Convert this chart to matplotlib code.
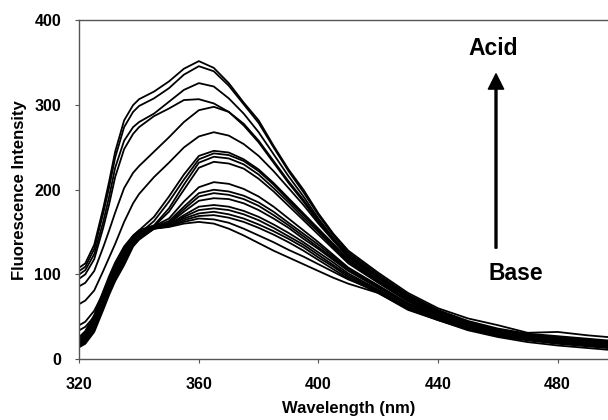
import numpy as np
import matplotlib
matplotlib.use("Agg")
import matplotlib.pyplot as plt

plt.rcParams['font.family'] = ['Liberation Sans', 'DejaVu Sans']
plt.rcParams['font.weight'] = 'bold'

wavelength = [320, 322, 325, 328, 330, 332, 335, 338, 340, 345, 350, 355, 360, 365, 370,
              375, 380, 385, 390, 395, 400, 405, 410, 420, 430, 440, 450, 460, 470, 480,
              490, 500]

# spectra from most acidic (top) to most basic (bottom)
s01 = [108, 113, 135, 178, 210, 245, 282, 300, 307, 316, 328, 343, 352, 344, 326,
       303, 282, 252, 224, 200, 172, 148, 128, 102, 78, 60, 48, 40, 31, 32, 28, 25]
s02 = [104, 109, 130, 172, 203, 238, 274, 292, 299, 308, 320, 336, 346, 340, 323,
       301, 279, 250, 222, 197, 170, 146, 126, 100, 76, 58, 45, 36, 30, 27, 24, 21]
s03 = [100, 105, 124, 162, 192, 226, 258, 274, 280, 290, 304, 318, 326, 322, 308,
       290, 268, 242, 216, 192, 166, 143, 124, 98, 75, 57, 44, 35, 29, 26, 23, 20]
s04 = [95, 100, 118, 155, 183, 215, 248, 266, 274, 287, 296, 306, 307, 302, 292,
       276, 256, 232, 208, 186, 162, 140, 121, 96, 74, 56, 43, 34, 28, 25, 22, 19]
s05 = [86, 90, 104, 132, 152, 173, 202, 220, 228, 245, 262, 280, 294, 298, 292,
       278, 258, 234, 210, 188, 164, 142, 122, 97, 74, 56, 43, 34, 28, 25, 22, 19]
s06 = [65, 69, 81, 104, 120, 136, 162, 184, 195, 215, 232, 250, 263, 268, 264,
       254, 240, 222, 202, 182, 160, 140, 120, 95, 72, 55, 42, 33, 28, 24, 21, 18]
s07 = [40, 44, 57, 78, 94, 110, 130, 145, 152, 168, 192, 218, 240, 246, 244,
       236, 224, 208, 190, 172, 154, 136, 118, 93, 71, 54, 42, 33, 27, 23, 20, 17]
s08 = [34, 38, 50, 70, 86, 102, 122, 140, 148, 163, 186, 212, 236, 243, 241,
       234, 222, 206, 188, 170, 152, 134, 116, 92, 70, 53, 41, 32, 27, 23, 20, 17]
s09 = [26, 33, 52, 80, 98, 114, 133, 146, 152, 158, 178, 206, 232, 239, 237,
       230, 218, 202, 185, 167, 150, 132, 115, 91, 69, 52, 40, 31, 26, 22, 19, 16]
s10 = [25, 31, 50, 78, 96, 112, 131, 145, 151, 157, 174, 200, 226, 233, 231,
       225, 213, 198, 181, 164, 147, 130, 113, 90, 68, 52, 40, 31, 26, 22, 19, 16]
s11 = [23, 29, 48, 76, 94, 110, 129, 143, 150, 157, 166, 186, 203, 209, 207,
       201, 192, 180, 166, 152, 138, 123, 108, 87, 66, 51, 39, 31, 26, 22, 19, 16]
s12 = [22, 28, 46, 74, 92, 108, 127, 142, 149, 156, 163, 180, 196, 200, 198,
       193, 185, 174, 161, 148, 135, 121, 107, 86, 65, 50, 39, 30, 25, 21, 18, 15]
s13 = [21, 26, 44, 72, 90, 106, 125, 141, 148, 156, 161, 177, 192, 196, 194,
       189, 181, 170, 158, 145, 132, 119, 105, 85, 64, 50, 38, 30, 25, 21, 18, 15]
s14 = [20, 25, 42, 70, 88, 104, 123, 140, 147, 156, 160, 174, 187, 190, 189,
       184, 176, 166, 155, 142, 130, 117, 104, 84, 64, 49, 38, 30, 25, 21, 18, 15]
s15 = [19, 24, 40, 68, 86, 102, 121, 139, 146, 155, 159, 170, 180, 182, 180,
       175, 168, 159, 149, 138, 126, 114, 101, 82, 62, 48, 37, 29, 24, 20, 17, 14]
s16 = [18, 23, 38, 66, 84, 100, 119, 138, 145, 155, 158, 168, 176, 178, 176,
       171, 164, 155, 145, 135, 123, 111, 99, 81, 61, 48, 37, 29, 24, 20, 17, 14]
s17 = [17, 22, 37, 64, 82, 98, 117, 137, 144, 155, 158, 166, 172, 174, 171,
       166, 159, 151, 142, 132, 120, 109, 97, 80, 60, 47, 36, 28, 23, 19, 16, 13]
s18 = [16, 20, 35, 62, 80, 96, 115, 136, 143, 154, 157, 164, 169, 170, 167,
       162, 155, 147, 138, 128, 117, 106, 95, 78, 59, 47, 36, 28, 23, 19, 16, 13]
s19 = [15, 19, 34, 60, 78, 94, 113, 134, 142, 154, 157, 162, 166, 165, 161,
       154, 146, 138, 129, 121, 112, 103, 94, 80, 59, 46, 35, 27, 22, 18, 15, 12]
s20 = [14, 18, 32, 58, 76, 92, 111, 133, 141, 154, 156, 160, 162, 160, 154,
       146, 137, 128, 120, 112, 104, 96, 89, 78, 58, 46, 34, 26, 20, 16, 13, 10]

spectra = [s01, s02, s03, s04, s05, s06, s07, s08, s09, s10,
           s11, s12, s13, s14, s15, s16, s17, s18, s19, s20]

fig = plt.figure(figsize=(6.08, 4.2), dpi=100)
ax = fig.add_axes([0.1304, 0.1452, 0.885, 0.806])

for s in spectra:
    ax.plot(wavelength, s, color='black', lw=1.3)

ax.set_xlim(320, 500)
ax.set_ylim(0, 400)
ax.set_xticks([320, 360, 400, 440, 480])
ax.set_yticks([0, 100, 200, 300, 400])
ax.tick_params(axis='x', direction='out', length=3, width=0.8, pad=10,
               labelsize=11.5, color='#555555')
ax.tick_params(axis='y', direction='out', length=3, width=0.8, pad=10,
               labelsize=11.5, color='#555555')
for lab in ax.get_xticklabels() + ax.get_yticklabels():
    lab.set_fontweight('bold')
for side in ['left', 'bottom', 'top']:
    ax.spines[side].set_color('#555555')
    ax.spines[side].set_linewidth(1.0)
ax.spines['right'].set_visible(False)

ax.set_xlabel('Wavelength (nm)', fontsize=12, fontweight='bold', va='center')
ax.xaxis.set_label_coords(0.5, -0.145)
ax.set_ylabel('Fluorescence Intensity', fontsize=12, fontweight='bold', va='center')
ax.yaxis.set_label_coords(-0.112, 0.5)

ax.annotate('', xy=(459.4, 337), xytext=(459.4, 131),
            arrowprops=dict(facecolor='black', edgecolor='black', width=1.4,
                            headwidth=11, headlength=11, shrink=0))
ax.text(458.5, 367, 'Acid', fontsize=16.5, fontweight='bold', ha='center', va='center')
ax.text(466, 101, 'Base', fontsize=16.5, fontweight='bold', ha='center', va='center')

fig.savefig('out.png', dpi=100)
